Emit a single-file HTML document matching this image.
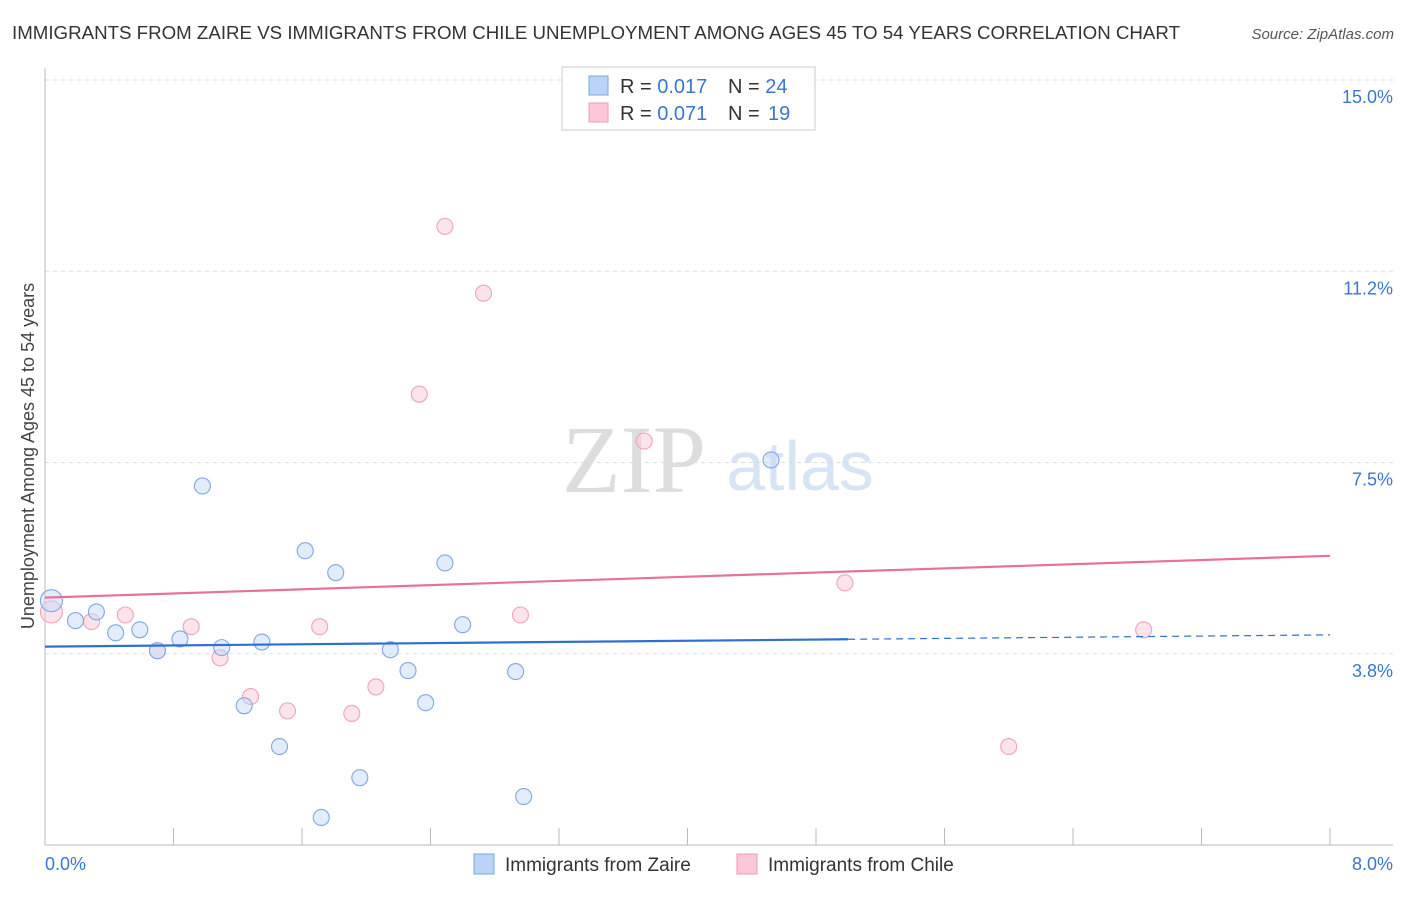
<!DOCTYPE html>
<html><head><meta charset="utf-8"><style>
body{margin:0;background:#fff;font-family:"Liberation Sans",sans-serif;}
</style></head><body>
<svg width="1406" height="892" xmlns="http://www.w3.org/2000/svg" font-family="Liberation Sans, sans-serif">
<text x="12" y="39" font-size="18" fill="#333" textLength="1168" lengthAdjust="spacingAndGlyphs">IMMIGRANTS FROM ZAIRE VS IMMIGRANTS FROM CHILE UNEMPLOYMENT AMONG AGES 45 TO 54 YEARS CORRELATION CHART</text>
<text x="1394" y="39" font-size="15" fill="#555" text-anchor="end" font-style="italic">Source: ZipAtlas.com</text>
<text x="634" y="492" font-size="96" fill="#ddd" font-family="Liberation Serif, serif" text-anchor="middle">ZIP</text>
<text x="800" y="490" font-size="70" fill="#d6e4f5" text-anchor="middle">atlas</text>
<g id="grid"></g>
<g id="axes"></g>
<g id="marks"></g>
<text transform="translate(34,456) rotate(-90)" font-size="18" fill="#444" text-anchor="middle">Unemployment Among Ages 45 to 54 years</text>
<text x="45" y="870" font-size="18" fill="#3a76d0">0.0%</text>
<text x="1393" y="870" font-size="18" fill="#3a76d0" text-anchor="end">8.0%</text>
<g>
<rect x="562" y="67" width="253" height="63" fill="#fff" stroke="#ccc"/>
<rect x="589" y="76" width="19" height="19" fill="#b9d4f6" stroke="#7aa7e0"/>
<rect x="589" y="103" width="19" height="19" fill="#fcc7d6" stroke="#ee9bb4"/>
<text x="620" y="93" font-size="20" fill="#333">R = <tspan fill="#3a76d0">0.017</tspan></text>
<text x="728" y="93" font-size="20" fill="#333">N = <tspan fill="#3a76d0">24</tspan></text>
<text x="620" y="120" font-size="20" fill="#333">R = <tspan fill="#3a76d0">0.071</tspan></text>
<text x="728" y="120" font-size="20" fill="#333">N = </text>
<text x="768" y="120" font-size="20" fill="#3a76d0">19</text>
</g>
<g>
<rect x="474" y="854" width="20" height="20" fill="#b9d4f6" stroke="#7aa7e0"/>
<text x="505" y="871" font-size="19" fill="#333">Immigrants from Zaire</text>
<rect x="737" y="854" width="20" height="20" fill="#fcc7d6" stroke="#ee9bb4"/>
<text x="768" y="871" font-size="19" fill="#333">Immigrants from Chile</text>
</g>
</svg>
<script>
const yTicks=[3.75,7.5,11.25,15.0];
const yTickLabels=["3.8%","7.5%","11.2%","15.0%"];
const xTicks=[0,0.8,1.6,2.4,3.2,4.0,4.8,5.6,6.4,7.2,8.0];
const zaireX=[0.04,0.19,0.32,0.44,0.59,0.70,0.84,0.98,1.10,1.24,1.35,1.46,1.62,1.72,1.81,1.96,2.15,2.26,2.37,2.49,2.60,2.93,2.98,4.52];
const zaireY=[4.79,4.40,4.57,4.16,4.22,3.81,4.04,7.04,3.87,2.73,3.98,1.93,5.77,0.54,5.34,1.32,3.83,3.42,2.79,5.53,4.32,3.40,0.95,7.55];
const chileX=[0.04,0.29,0.50,0.70,0.91,1.09,1.28,1.51,1.71,1.91,2.06,2.33,2.49,2.73,2.96,3.73,4.98,6.00,6.84];
const chileY=[4.57,4.38,4.51,3.81,4.28,3.67,2.91,2.63,4.28,2.58,3.10,8.84,12.13,10.82,4.51,7.92,5.14,1.93,4.22];
const zaireTrend=[3.89,4.12];
const chileTrend=[4.85,5.67];
const NS="http://www.w3.org/2000/svg";
const X=v=>45+v/8*1285;
const Y=v=>845-v/15*765;
function mk(p,t,a){const e=document.createElementNS(NS,t);for(const k in a)e.setAttribute(k,a[k]);p.appendChild(e);return e;}
const grid=document.getElementById('grid'),axes=document.getElementById('axes'),marks=document.getElementById('marks');
yTicks.forEach((v,i)=>{
 const l=mk(grid,'line',{x1:45,x2:1393,y1:Y(v),y2:Y(v),stroke:'#ddd','stroke-dasharray':'4,4'});
 
 
 const t=mk(grid,'text',{x:1393,y:Y(v)+23,'font-size':18,fill:'#3a76d0','text-anchor':'end'});
 t.textContent=yTickLabels[i];
 
 
});
const ya=mk(axes,'line',{x1:45,x2:45,y1:68,y2:845,stroke:'#bbb'});


const xa=mk(axes,'line',{x1:45,x2:1393,y1:845,y2:845,stroke:'#bbb'});


xTicks.forEach(v=>{
 const t=mk(axes,'line',{x1:X(v),x2:X(v),y1:828,y2:845,stroke:'#bbb'});
 
 
});
function trend(tr,color,solidEnd,dashed){
 const yAt=x=>tr[0]+(tr[1]-tr[0])*x/8;
 const l=mk(marks,'line',{x1:X(0),y1:Y(yAt(0)),x2:X(solidEnd),y2:Y(yAt(solidEnd)),stroke:color,'stroke-width':2.2});
 
 
 if(dashed){const d=mk(marks,'line',{x1:X(solidEnd),y1:Y(yAt(solidEnd)),x2:X(8),y2:Y(yAt(8)),stroke:color,'stroke-width':1.2,'stroke-dasharray':'7,5'});
 
 }
}
function pts(xs,ys,fill,stroke,name){
 xs.forEach((x,i)=>{
  const c=mk(marks,'circle',{cx:X(x),cy:Y(ys[i]),r:i===0?11:8,fill:fill,'fill-opacity':0.5,stroke:stroke,'stroke-width':1.1});
  
  
 });
}
pts(chileX,chileY,'#fcc7d6','#efa3bb','chile-point');
pts(zaireX,zaireY,'#c3dafa','#7fa8e0','zaire-point');
trend(zaireTrend,'#2f6fd0',5.0,true);
trend(chileTrend,'#e8709a',8,false);
</script>
</body></html>
